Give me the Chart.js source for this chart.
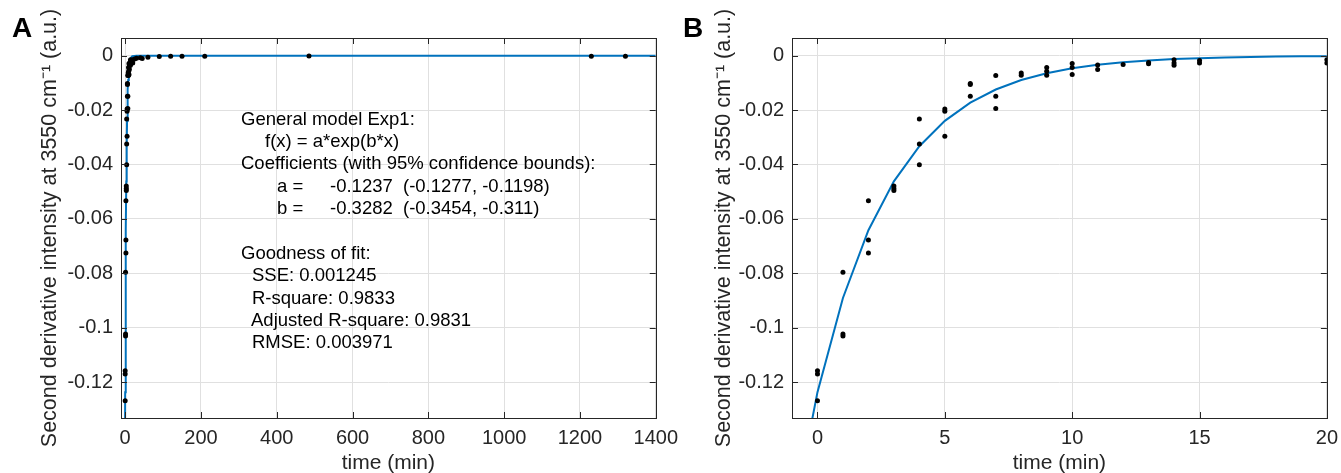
<!DOCTYPE html>
<html>
<head>
<meta charset="utf-8">
<script src="https://cdn.jsdelivr.net/npm/chart.js@4"></script>
<style>
html,body{margin:0;padding:0;background:#fff;width:1341px;height:473px;overflow:hidden;position:relative;font-family:"Liberation Sans",Arial,Helvetica,sans-serif;}
.wrap{position:absolute;top:0;height:478px;}
#wa{left:0;width:686px;}
#wb{left:680px;width:666px;}
canvas{display:block;}
.panel{position:absolute;font-weight:bold;font-size:28px;line-height:28px;color:#000;}
.ann{position:absolute;font-size:18.5px;line-height:22px;color:#000;white-space:pre;}
</style>
</head>
<body>
<div class="wrap" id="wa"><canvas id="ca" width="686" height="478"></canvas></div>
<div class="wrap" id="wb"><canvas id="cb" width="666" height="478"></canvas></div>
<div class="panel" style="left:12px;top:14px;">A</div>
<div class="panel" style="left:683px;top:14px;">B</div>

<div class="ann" style="left:241px;top:108px;">General model Exp1:</div>
<div class="ann" style="left:265px;top:130px;">f(x) = a*exp(b*x)</div>
<div class="ann" style="left:241px;top:152px;">Coefficients (with 95% confidence bounds):</div>
<div class="ann" style="left:277px;top:175px;">a =</div>
<div class="ann" style="left:330px;top:175px;">-0.1237</div>
<div class="ann" style="left:403px;top:175px;">(-0.1277, -0.1198)</div>
<div class="ann" style="left:277px;top:197px;">b =</div>
<div class="ann" style="left:330px;top:197px;">-0.3282</div>
<div class="ann" style="left:403px;top:197px;">(-0.3454, -0.311)</div>
<div class="ann" style="left:241px;top:242px;">Goodness of fit:</div>
<div class="ann" style="left:252px;top:264px;">SSE: 0.001245</div>
<div class="ann" style="left:252px;top:287px;">R-square: 0.9833</div>
<div class="ann" style="left:251px;top:309px;">Adjusted R-square: 0.9831</div>
<div class="ann" style="left:252px;top:331px;">RMSE: 0.003971</div>

<script>
// ---- data ----
const xTicksA = [0, 200, 400, 600, 800, 1000, 1200, 1400];
const xTicksB = [0, 5, 10, 15, 20];
const yTicks = [-0.12, -0.1, -0.08, -0.06, -0.04, -0.02, 0];

// measured points, 0-20 min
const timeShort = [0,0,0, 1,1,1, 2,2,2, 3,3,3, 4,4,4, 5,5,5, 6,6,6, 7,7,7, 8,8, 9,9,9, 10,10,10, 11,11, 12, 13,13, 14,14,14, 15,15, 20,20];
const valueShort = [-0.1158,-0.1170,-0.1269, -0.0796,-0.1023,-0.1031, -0.0533,-0.0678,-0.0725,
  -0.0479,-0.0488,-0.0496, -0.0233,-0.0325,-0.0401, -0.0196,-0.0204,-0.0296,
  -0.0102,-0.0106,-0.0149, -0.0073,-0.0149,-0.0194, -0.0064,-0.0072,
  -0.0043,-0.0057,-0.0072, -0.0029,-0.0043,-0.0069, -0.0034,-0.0051, -0.0032,
  -0.0025,-0.0030, -0.0015,-0.0027,-0.0035, -0.0018,-0.0027, -0.0015,-0.0027];

// measured points, long times (panel A only)
const timeLong = [25, 30, 40, 45, 60, 90, 120, 150, 210, 485, 1230, 1320];
const valueLong = [-0.0012, -0.0009, -0.0008, -0.0010, -0.0006, -0.0003, -0.0002, -0.0002, -0.0002, -0.0001, -0.0002, -0.0002];

// fitted curve f(x) = a*exp(b*x), sampled values
const fitTime = [-1,0,1,2,3,4,5,6,7,8,9,10,11,12,13,14,15,16,17,18,19,20];
const fitValue = [-0.17175,-0.1237,-0.08909,-0.06417,-0.04621,-0.03328,-0.02397,-0.01727,-0.01243,
  -0.00896,-0.00645,-0.00465,-0.00335,-0.00241,-0.00174,-0.00125,-0.00090,-0.00065,-0.00047,-0.00034,-0.00024,-0.00017];
const fitTimeTail = [30, 1400];
const fitValueTail = [-0.0000065, 0];

// ---- chart helpers ----
const FONT = '"Liberation Sans", Arial, Helvetica, sans-serif';
const AX = '#262626';
const toPts = (xs, ys) => xs.map((v, i) => ({x: v, y: ys[i]}));
const fmt = v => String(parseFloat(Number(v).toFixed(4)));

const frame = {
  id: 'frame',
  afterDraw(chart) {
    const {ctx, chartArea: {left, right, top, bottom}, scales: {x, y}} = chart;
    ctx.save();
    ctx.strokeStyle = AX;
    ctx.lineWidth = 1;
    ctx.beginPath();
    const tl = 6;
    x.ticks.forEach(t => {
      const p = Math.round(x.getPixelForValue(t.value)) + 0.5;
      ctx.moveTo(p, bottom); ctx.lineTo(p, bottom - tl);
      ctx.moveTo(p, top); ctx.lineTo(p, top + tl);
    });
    y.ticks.forEach(t => {
      const p = Math.round(y.getPixelForValue(t.value)) + 0.5;
      ctx.moveTo(left, p); ctx.lineTo(left + tl, p);
      ctx.moveTo(right, p); ctx.lineTo(right - tl, p);
    });
    ctx.stroke();
    ctx.strokeRect(Math.round(left) + 0.5, Math.round(top) + 0.5, Math.round(right - left), Math.round(bottom - top));
    ctx.restore();
  }
};

function makeChart(id, opt) {
  return new Chart(document.getElementById(id), {
    type: 'scatter',
    data: {
      datasets: [
        {data: opt.points, showLine: false, pointRadius: 2.5, pointHoverRadius: 2.5, backgroundColor: '#000', borderColor: '#000', borderWidth: 0},
        {data: opt.fit, showLine: true, borderColor: '#0072BD', borderWidth: 2, pointRadius: 0, tension: 0, fill: false}
      ]
    },
    options: {
      responsive: false,
      animation: false,
      devicePixelRatio: 1,
      layout: {padding: {left: 0, top: 38, right: opt.padRight, bottom: 0}},
      plugins: {legend: {display: false}, tooltip: {enabled: false}},
      scales: {
        x: {
          type: 'linear', min: opt.xmin, max: opt.xmax,
          afterBuildTicks: s => { s.ticks = opt.xTicks.map(v => ({value: v})); },
          afterFit: s => { s.height = 60; },
          grid: {color: '#e0e0e0', drawTicks: false, lineWidth: 1},
          border: {display: false},
          ticks: {padding: 8, color: AX, font: {family: FONT, size: 20}, maxRotation: 0, autoSkip: false, includeBounds: false, callback: v => fmt(v)},
          title: {display: true, text: 'time (min)', color: AX, font: {family: FONT, size: 21}, padding: {top: 0, bottom: 2.4}}
        },
        y: {
          type: 'linear', min: -0.1332, max: 0.0065,
          afterBuildTicks: s => { s.ticks = yTicks.map(v => ({value: v})); },
          afterFit: s => { s.width = opt.yWidth; },
          grid: {color: '#e0e0e0', drawTicks: false, lineWidth: 1},
          border: {display: false},
          ticks: {padding: 8, color: AX, font: {family: FONT, size: 20}, autoSkip: false, includeBounds: false, callback: v => fmt(v)},
          title: {display: true, text: 'Second derivative intensity at 3550 cm\u207B\u00B9 (a.u.)', color: AX, font: {family: FONT, size: 21.5}, padding: {top: opt.yTitlePad, bottom: 0}}
        }
      }
    },
    plugins: [frame]
  });
}

makeChart('ca', {
  points: toPts(timeShort.concat(timeLong), valueShort.concat(valueLong)),
  fit: toPts(fitTime.concat(fitTimeTail), fitValue.concat(fitValueTail)),
  xmin: -11, xmax: 1400, xTicks: xTicksA, yWidth: 121, padRight: 30, yTitlePad: 37.5
});
makeChart('cb', {
  points: toPts(timeShort, valueShort),
  fit: toPts(fitTime, fitValue),
  xmin: -1, xmax: 20, xTicks: xTicksB, yWidth: 112, padRight: 19, yTitlePad: 31.5
});
</script>
</body>
</html>
